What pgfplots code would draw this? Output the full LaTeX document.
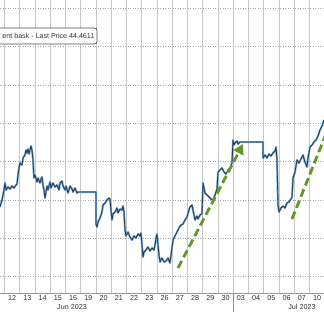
\documentclass[border=0pt]{standalone}
\usepackage{fontspec}
\setmainfont{Liberation Sans}
\usepackage{pgfplots}
\pgfplotsset{compat=1.18}
\usetikzlibrary{arrows.meta}
\definecolor{gridv}{RGB}{200,200,200}
\definecolor{gridh}{RGB}{165,165,165}
\definecolor{pxline}{RGB}{40,60,80}
\definecolor{pxhalo}{RGB}{110,165,205}
\definecolor{arrowgreen}{RGB}{100,150,40}
\definecolor{txt}{RGB}{50,50,50}
\begin{document}
\begin{tikzpicture}
\begin{axis}[
  scale only axis, width=324pt, height=293pt,
  xmin=0, xmax=324, ymin=0, ymax=293, y dir=reverse,
  axis line style={draw=none},
  clip mode=individual,
  xtick={12.1,27.35,42.6,57.85,73.1,88.35,103.6,118.85,134.1,149.35,164.6,179.85,195.1,210.35,225.6,240.85,256.1,271.35,286.6,301.85,317.1},
  xticklabels={12,13,14,15,16,19,20,21,22,23,26,27,28,29,30,03,04,05,06,07,10},
  minor xtick={4.5,19.75,35,50.25,65.5,80.75,96,111.25,126.5,141.75,157,172.25,187.5,202.75,218,233.25,248.5,263.75,279,294.25,309.5},
  xminorgrids, minor grid style={gridv, line width=0.6pt, solid},
  ytick={8.3,46.6,84.9,123.2,161.5,199.8,238.1,276.4},
  yticklabels={}, ymajorgrids,
  major grid style={gridh, line width=0.5pt, dotted},
  major tick length=0pt, minor tick length=0pt,
  xticklabel style={font=\fontsize{7.2}{8}\selectfont, text=txt, inner sep=0pt, anchor=north, yshift=-2.5pt},
]
% bottom axis line
\addplot[gray!80, line width=0.6pt] coordinates {(0,293) (324,293)};
% price series
\pgfplotstableread{
x y
0 207
2 200
4 190
5 183
6 190
8 187
10 189
12 186
14 188
16 185
17 184
18 175
19 168
20 163
22 165
23 158
25 155
26 150
27 153
28 149
29 154
30 150
31 146
32 150
33 160
34 178
35 175
37 182
38 178
40 183
41 179
42 177
43 185
44 190
45 198
46 192
47 186
48 190
50 182
51 188
53 183
55 187
57 185
59 190
60 183
62 181
63 186
65 190
66 186
68 193
70 186
72 189
73 192
75 188
77 193
78 192
96 192
96 224
97 227
98 222
100 218
102 212
103 205
105 203
107 200
109 198
110 199
111 210
112 220
113 214
115 212
117 208
118 213
120 209
122 210
123 206
124 212
125 230
126 236
128 232
130 237
132 240
134 236
136 238
138 234
140 236
141 233
142 245
143 257
144 252
146 250
148 247
150 251
152 248
154 250
155 245
156 238
157 234
158 245
159 255
160 262
162 258
164 262
166 261
168 258
170 263
171 255
173 240
175 236
177 232
179 228
181 225
183 224
185 220
187 217
189 210
190 207
192 205
193 210
195 220
197 216
198 219
200 215
202 214
203 183
204 188
205 193
207 195
209 197
211 199
213 200
215 195
217 189
218 172
220 170
222 168
224 172
226 174
228 170
230 168
232 163
233 140
234 145
235 143
237 141
238 144
240 142
263 142
263 158
265 155
267 158
269 154
271 156
273 153
275 151
276 147
277 160
278 205
279 212
281 208
283 206
285 208
287 203
289 202
291 199
292 197
293 178
295 172
297 160
299 163
301 159
303 155
305 162
307 167
308 158
310 147
312 145
314 142
316 140
318 136
320 130
322 126
324 120
}\pricedata
\addplot[pxhalo, line width=2.0pt, line join=round] table[x=x,y=y] {\pricedata};
\addplot[pxline, line width=0.8pt, line join=round] table[x=x,y=y] {\pricedata};
% green dashed arrows
\addplot[arrowgreen, line width=2.8pt, dash pattern=on 8pt off 4pt, -{Triangle[length=10pt,width=11pt]}] coordinates {(178,268) (243,144)};
\addplot[arrowgreen, line width=2.8pt, dash pattern=on 8pt off 4pt] coordinates {(292,219) (330,124)};
% legend box
\draw[draw=black!70, line width=0.7pt, rounded corners=2.5pt, fill=white] (axis cs:-20,28) rectangle (axis cs:97,44);
\node[anchor=east, inner sep=0pt, text=txt, font=\fontsize{7.1}{8}\selectfont] at (axis cs:94.5,36) {ent bask - Last Price 44.4611};
% month labels and separator
\draw[gray!90, line width=0.6pt] (axis cs:233.25,293) -- (axis cs:233.25,312);
\node[text=txt, font=\fontsize{7.2}{8}\selectfont, inner sep=0pt] at (axis cs:72,307) {Jun 2023};
\node[text=txt, font=\fontsize{7.2}{8}\selectfont, inner sep=0pt] at (axis cs:302,307) {Jul 2023};
\coordinate (BL) at (axis cs:0,311);
\coordinate (TR) at (axis cs:324,0);
\end{axis}
\pgfresetboundingbox
\useasboundingbox (BL) rectangle (TR);
\end{tikzpicture}
\end{document}
